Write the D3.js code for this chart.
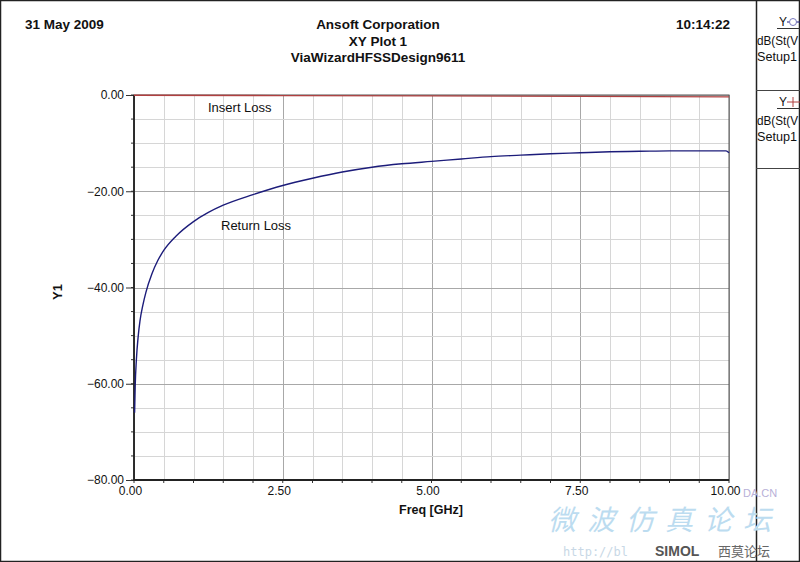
<!DOCTYPE html>
<html><head><meta charset="utf-8">
<script src="https://cdn.jsdelivr.net/npm/d3@7"></script>
<style>
html,body{margin:0;padding:0;background:#fff;}
svg{display:block;font-family:"Liberation Sans",Arial,sans-serif;}
</style></head>
<body>
<svg id="c" width="800" height="562"></svg>
<script>
// ---- data ----
const headerLeft = "31 May 2009";
const headerRight = "10:14:22";
const titleLines = ["Ansoft Corporation", "XY Plot 1", "ViaWizardHFSSDesign9611"];
const xLabel = "Freq [GHz]";
const yLabel = "Y1";
const xTicks = [0, 2.5, 5, 7.5, 10];
const yTicks = [0, -20, -40, -60, -80];
const returnLossFreq = [0.01,0.02,0.04,0.07,0.1,0.15,0.2,0.3,0.4,0.5,0.7,1.0,1.25,1.5,2.0,2.5,3.0,3.5,4.0,4.5,5.0,5.5,6.0,6.5,7.0,7.5,8.0,8.5,9.0,9.5,9.95,10.0];
const returnLossDb = [-66.0,-60.5,-55.0,-50.2,-47.0,-43.6,-41.0,-37.2,-34.4,-32.3,-29.4,-26.3,-24.4,-22.9,-20.7,-18.8,-17.3,-16.0,-15.0,-14.3,-13.8,-13.3,-12.8,-12.5,-12.2,-12.0,-11.8,-11.7,-11.6,-11.6,-11.6,-12.0];
const insertLossFreq = [0, 2.5, 5, 7.5, 10];
const insertLossDb = [-0.05, -0.12, -0.2, -0.3, -0.4];
const seriesLabels = ["Insert Loss", "Return Loss"];
const legendLines = [["Y", "dB(St(V", "Setup1"], ["Y", "dB(St(V", "Setup1"]];

// ---- layout ----
const svg = d3.select("#c");
const L = 134, R = 729, T = 95, B = 480;
const x = d3.scaleLinear().domain([0, 10]).range([L, R]);
const y = d3.scaleLinear().domain([-80, 0]).range([B, T]);

// outer frame
svg.append("rect").attr("x",0.5).attr("y",0.5).attr("width",799).attr("height",561)
  .attr("fill","none").attr("stroke","#222").attr("stroke-width",1.5);
svg.append("line").attr("x1",756.5).attr("x2",756.5).attr("y1",0).attr("y2",562).attr("stroke","#222").attr("stroke-width",1.5);
[90.5, 168.5].forEach(yy => svg.append("line").attr("x1",756).attr("x2",800).attr("y1",yy).attr("y2",yy).attr("stroke","#444"));

// header
const hdr = svg.append("g").attr("font-weight","bold").attr("font-size","13.5px").attr("fill","#111");
hdr.append("text").attr("x",25).attr("y",29).text(headerLeft);
hdr.append("text").attr("x",730).attr("y",29).attr("text-anchor","end").text(headerRight);
titleLines.forEach((t,i) => hdr.append("text").attr("x",378).attr("y",29 + i*16.5).attr("text-anchor","middle").text(t));

// legend panel
const lg = svg.append("g").attr("font-size","12px").attr("fill","#111");
legendLines.forEach((lines, i) => {
  const y0 = i === 0 ? 0 : 80;
  lg.append("text").attr("x",779).attr("y",y0+26).text(lines[0]);
  lg.append("line").attr("x1",777).attr("x2",800).attr("y1",y0+28.5).attr("y2",y0+28.5).attr("stroke","#333");
  if (i === 0) {
    lg.append("line").attr("x1",787).attr("x2",800).attr("y1",y0+22).attr("y2",y0+22).attr("stroke","#1c1c7a");
    lg.append("circle").attr("cx",793).attr("cy",y0+22).attr("r",3.5).attr("fill","#fff").attr("stroke","#7a7ac0");
  } else {
    lg.append("line").attr("x1",787).attr("x2",800).attr("y1",y0+22).attr("y2",y0+22).attr("stroke","#b04040");
    lg.append("line").attr("x1",793).attr("x2",793).attr("y1",y0+17).attr("y2",y0+27).attr("stroke","#b04040");
  }
  lg.append("text").attr("x",757).attr("y",y0+45).attr("textLength",41).attr("lengthAdjust","spacingAndGlyphs").text(lines[1]);
  lg.append("text").attr("x",757).attr("y",y0+61).attr("textLength",40).attr("lengthAdjust","spacingAndGlyphs").text(lines[2]);
});

// grid
const g = svg.append("g");
const xMinor = d3.range(0, 10.001, 0.5);
const yMinor = d3.range(-80, 0.001, 5);
g.selectAll(".gx").data(xMinor).join("line")
  .attr("x1",d=>Math.round(x(d))+0.5).attr("x2",d=>Math.round(x(d))+0.5).attr("y1",T).attr("y2",B)
  .attr("stroke",d=> xTicks.includes(d) ? "#a8a8a8" : "#d6d6d6").attr("stroke-width",1);
g.selectAll(".gy").data(yMinor).join("line")
  .attr("x1",L).attr("x2",R).attr("y1",d=>Math.round(y(d))+0.5).attr("y2",d=>Math.round(y(d))+0.5)
  .attr("stroke",d=> yTicks.includes(d) ? "#a8a8a8" : "#d6d6d6").attr("stroke-width",1);

// plot border
svg.append("rect").attr("x",L).attr("y",T).attr("width",R-L).attr("height",B-T)
  .attr("fill","none").attr("stroke","#555").attr("stroke-width",1);

// axes
const yAxis = d3.axisLeft(y).tickValues(yTicks).tickFormat(d3.format(".2f")).tickSize(8).tickPadding(2);
const yAx = svg.append("g").attr("transform",`translate(${L},0)`).call(yAxis);
const xAxis = d3.axisBottom(x).tickValues(xTicks).tickFormat(d3.format(".2f")).tickSize(0).tickPadding(6);
const xAx = svg.append("g").attr("transform",`translate(0,${B})`).call(xAxis);
[yAx, xAx].forEach(a => {
  a.select(".domain").remove();
  a.selectAll("text").attr("font-size","12px").attr("fill","#111").attr("font-family","'Liberation Sans',Arial,sans-serif");
  a.selectAll("line").attr("stroke","#333");
});
xAx.selectAll("text").attr("dx","-4");
// minor ticks
svg.append("g").selectAll("line").data(yMinor).join("line")
  .attr("x1",L-3).attr("x2",L).attr("y1",d=>y(d)).attr("y2",d=>y(d)).attr("stroke","#333");
svg.append("g").selectAll("line").data(xMinor).join("line")
  .attr("x1",d=>x(d)).attr("x2",d=>x(d)).attr("y1",B).attr("y2",B+3).attr("stroke","#333");
// main axis lines
svg.append("line").attr("x1",L).attr("x2",L).attr("y1",T).attr("y2",B+1).attr("stroke","#222").attr("stroke-width",1.8);
svg.append("line").attr("x1",L).attr("x2",R).attr("y1",B).attr("y2",B).attr("stroke","#222").attr("stroke-width",1.8);

// axis titles
svg.append("text").attr("x",431).attr("y",514).attr("text-anchor","middle")
  .attr("font-size","12.5px").attr("font-weight","bold").attr("fill","#111").text(xLabel);
svg.append("text").attr("transform","translate(62,292) rotate(-90)").attr("text-anchor","middle")
  .attr("font-size","13px").attr("font-weight","bold").attr("fill","#111").text(yLabel);

// series
const lineIL = d3.line().x(d=>x(d[0])).y(d=>y(d[1]));
const lineRL = d3.line().x(d=>x(d[0])).y(d=>y(d[1])).curve(d3.curveMonotoneX);
svg.append("path").datum(insertLossFreq.map((f,i)=>[f, insertLossDb[i]]))
  .attr("d",lineIL).attr("fill","none").attr("stroke","#b04040").attr("stroke-width",1.3);
svg.append("path").datum(returnLossFreq.map((f,i)=>[f, returnLossDb[i]])).attr("d",lineRL)
  .attr("fill","none").attr("stroke","#1c1c7a").attr("stroke-width",1.4);

// series labels
svg.append("text").attr("x",208).attr("y",112).attr("font-size","13px").attr("fill","#111").text(seriesLabels[0]);
svg.append("text").attr("x",221).attr("y",230).attr("font-size","13px").attr("fill","#111").text(seriesLabels[1]);

// faint watermark
const wm = svg.append("g").attr("pointer-events","none");
wm.append("text").attr("x",548).attr("y",530).attr("font-family","'Noto Sans CJK SC'").attr("font-size","28px")
  .attr("letter-spacing","11px").attr("fill","#bcdcf0").attr("font-style","italic").text("微波仿真论坛");
wm.append("text").attr("x",563).attr("y",556).attr("font-family","'DejaVu Sans Mono',monospace").attr("font-size","12px")
  .attr("fill","#c8d8e6").text("http://bl");
wm.append("text").attr("x",655).attr("y",556).attr("font-size","14px").attr("font-weight","bold")
  .attr("fill","#555").text("SIMOL");
wm.append("text").attr("x",718).attr("y",556).attr("font-family","'Noto Sans CJK SC'").attr("font-size","13px")
  .attr("fill","#666").text("西莫论坛");
wm.append("text").attr("x",743).attr("y",497).attr("font-size","11px").attr("fill","#b8b0d8").text("DA.CN");
</script>
</body></html>
